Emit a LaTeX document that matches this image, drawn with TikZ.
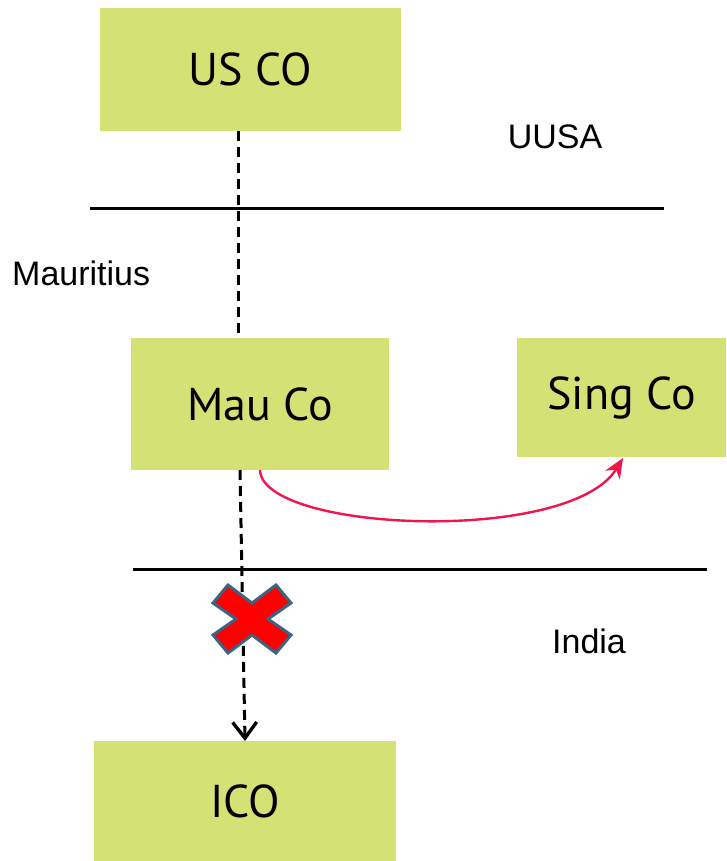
\documentclass[tikz,border=0pt]{standalone}
\usepackage{fontspec}
\setmainfont{Liberation Sans}
\newfontfamily\boxfont{PT Sans}
\usetikzlibrary{arrows.meta}
\definecolor{boxgreen}{HTML}{D4E175}
\definecolor{linkred}{HTML}{F0154C}
\definecolor{crossred}{HTML}{FF0000}
\definecolor{crossedge}{HTML}{3A6482}
\begin{document}
\begin{tikzpicture}[x=1pt,y=-1pt,
  entity/.style={fill=boxgreen, draw=none, inner sep=0pt, anchor=center,
    font=\boxfont\fontsize{46}{50}\selectfont},
  region/.style={font=\fontsize{34}{38}\selectfont, inner sep=0pt},
  border/.style={line width=3pt, black},
  flow/.style={line width=3pt, black, dash pattern=on 10pt off 6pt},
  redirect/.style={line width=2.4pt, linkred, -{Stealth[length=20pt,width=17pt]}}
]
\useasboundingbox (0,0) rectangle (726,861);

% companies
\node[entity, minimum width=301pt, minimum height=123pt] (us) at (250.5,69.5) {US CO};
\node[entity, minimum width=258pt, minimum height=132pt] (mau) at (260,404) {Mau Co};
\node[entity, minimum width=209pt, minimum height=119pt] (sing) at (621.5,397.5) {Sing Co};
\node[entity, minimum width=302pt, minimum height=120pt] (ico) at (245,801) {ICO};

% jurisdiction labels
\node[region] (usa) at (555,137) {UUSA};
\node[region, anchor=west] (mauritius) at (12,273) {Mauritius};
\node[region] (india) at (589,641) {India};

% borders between jurisdictions
\coordinate (b1l) at (90,208);
\coordinate (b1r) at (664,208);
\coordinate (b2l) at (133,569);
\coordinate (b2r) at (707,569);
\draw[border] (b1l) -- (b1r);
\draw[border] (b2l) -- (b2r);

% ownership links
\draw[flow] (us.south -| 238,0) -- (mau.north -| 238,0);
\coordinate (mb) at (240,470);
\coordinate (it) at (245,741);
\draw[flow, -{Straight Barb[length=16pt,width=24pt,line width=3.4pt]}] (mb) -- (it);

% redirection towards Singapore
\coordinate (ms) at (260,470);
\coordinate (st) at (623,458);
\draw[redirect] (ms) .. controls (262,532) and (570,545) .. (st);

% blocked route
\begin{scope}[shift={(252,619)}]
  \draw[fill=crossred, draw=crossedge, line width=3pt, line join=miter]
    (0,-16) -- (24,-34) -- (39,-16) -- (16,0) -- (39,16) -- (24,34)
    -- (0,16) -- (-24,34) -- (-39,16) -- (-16,0) -- (-39,-16) -- (-24,-34) -- cycle;
\end{scope}
\end{tikzpicture}
\end{document}
